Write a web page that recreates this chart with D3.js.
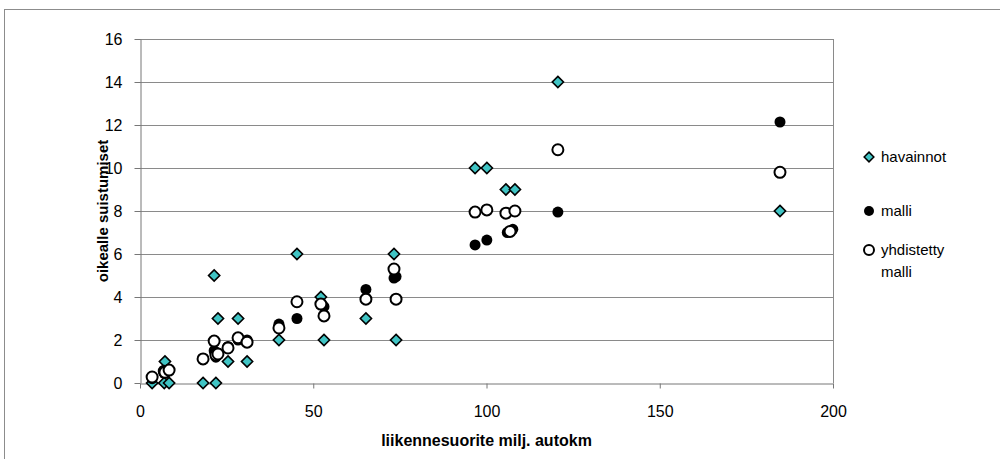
<!DOCTYPE html>
<html>
<head>
<meta charset="utf-8">
<script src="https://cdn.jsdelivr.net/npm/d3@7"></script>
<style>
  body { margin: 0; background: #fff; }
  text { font-family: "Liberation Sans", Arial, sans-serif; }
</style>
</head>
<body>
<svg width="1000" height="459"></svg>
<script>
const width = 1000;
const height = 459;

// series data: [liikennesuorite, suistumiset]
const havainnot = [
  [3.5, 0], [7.0, 0], [7.2, 1], [8.4, 0], [18.2, 0], [21.4, 5], [21.9, 0],
  [22.5, 3], [25.4, 1], [28.3, 3], [30.9, 1], [40.1, 2], [45.3, 6], [52.2, 4],
  [53.1, 2], [65.2, 3], [73.3, 6], [73.9, 2], [96.7, 10], [100.1, 10],
  [105.6, 9], [108.2, 9], [120.6, 14], [184.7, 8]
];
const malli = [
  [3.5, 0.2], [7.0, 0.45], [7.2, 0.5], [8.4, 0.6], [18.2, 1.1], [21.4, 1.5],
  [21.9, 1.2], [22.5, 1.4], [25.4, 1.7], [28.3, 2.0], [30.9, 2.0], [40.1, 2.74],
  [45.3, 3.0], [52.2, 3.7], [53.1, 3.55], [65.2, 4.35], [73.3, 4.88],
  [73.9, 4.95], [96.7, 6.42], [100.1, 6.65], [106.0, 7.0], [107.6, 7.15],
  [120.6, 7.95], [184.7, 12.14]
];
const yhdistetty = [
  [3.5, 0.28], [7.0, 0.55], [7.2, 0.5], [8.4, 0.6], [18.2, 1.12], [21.4, 1.95],
  [21.9, 1.3], [22.5, 1.35], [25.4, 1.63], [28.3, 2.1], [30.9, 1.9], [40.1, 2.56],
  [45.3, 3.78], [52.2, 3.67], [53.1, 3.12], [65.2, 3.9], [73.3, 5.3],
  [73.9, 3.9], [96.7, 7.95], [100.1, 8.05], [105.6, 7.9], [106.8, 7.05],
  [108.2, 8.0], [120.6, 10.85], [184.7, 9.8]
];
const xTicks = [0, 50, 100, 150, 200];
const yTicks = [0, 2, 4, 6, 8, 10, 12, 14, 16];

const plot = {left: 140, right: 833, top: 39, bottom: 383};

let xScale = d3.scaleLinear().domain([0, 200]).range([plot.left, plot.right]);
let yScale = d3.scaleLinear().domain([0, 16]).range([plot.bottom, plot.top]);

let svg = d3.select("svg");

// outer chart border
svg.append("rect")
  .attr("x", 4.5).attr("y", 9.5)
  .attr("width", width).attr("height", height)
  .attr("fill", "#fff").attr("stroke", "#8c8c8c");

// grid
svg.append("g")
  .selectAll("line")
  .data(yTicks.filter(d => d > 0))
  .enter().append("line")
    .attr("x1", plot.left).attr("x2", plot.right)
    .attr("y1", d => Math.round(yScale(d)) + 0.5)
    .attr("y2", d => Math.round(yScale(d)) + 0.5)
    .attr("stroke", "#8a8a8a");

svg.append("line")
  .attr("x1", plot.right + 0.5).attr("x2", plot.right + 0.5)
  .attr("y1", plot.top).attr("y2", plot.bottom)
  .attr("stroke", "#8a8a8a");

// axes
let xAxis = d3.axisBottom(xScale).tickValues(xTicks).tickSize(5).tickSizeOuter(0).tickPadding(17);
let yAxis = d3.axisLeft(yScale).tickValues(yTicks).tickSize(6).tickSizeOuter(0).tickPadding(12);

let gx = svg.append("g")
  .attr("transform", `translate(0, ${plot.bottom + 0.5})`)
  .call(xAxis);
let gy = svg.append("g")
  .attr("transform", `translate(${plot.left + 0.5}, 0)`)
  .call(yAxis);

[gx, gy].forEach(g => {
  g.selectAll("path, line").attr("stroke", "#777");
  g.selectAll("text")
    .attr("fill", "#000")
    .style("font-size", "16px")
    .style("font-family", "'Liberation Sans', Arial, sans-serif");
});

// series
let pts = svg.append("g");

pts.selectAll("path.obs")
  .data(havainnot)
  .enter().append("path")
    .attr("class", "obs")
    .attr("d", d3.symbol(d3.symbolDiamond2, 80))
    .attr("transform", d => `translate(${xScale(d[0])}, ${yScale(d[1])})`)
    .attr("fill", "#40c4c4")
    .attr("stroke", "#000")
    .attr("stroke-width", 1.6);

pts.selectAll("circle.malli")
  .data(malli)
  .enter().append("circle")
    .attr("class", "malli")
    .attr("cx", d => xScale(d[0]))
    .attr("cy", d => yScale(d[1]))
    .attr("r", 5.5)
    .attr("fill", "#000");

pts.selectAll("circle.yhd")
  .data(yhdistetty)
  .enter().append("circle")
    .attr("class", "yhd")
    .attr("cx", d => xScale(d[0]))
    .attr("cy", d => yScale(d[1]))
    .attr("r", 5.5)
    .attr("fill", "#fff")
    .attr("stroke", "#000")
    .attr("stroke-width", 2);

// axis titles
svg.append("text")
  .attr("x", (plot.left + plot.right) / 2)
  .attr("y", 446)
  .style("text-anchor", "middle")
  .style("font-size", "16px")
  .style("font-weight", "bold")
  .text("liikennesuorite milj. autokm");

svg.append("text")
  .attr("transform", "rotate(-90)")
  .attr("x", -(plot.top + plot.bottom) / 2)
  .attr("y", 108)
  .style("text-anchor", "middle")
  .style("font-size", "15px")
  .style("font-weight", "bold")
  .text("oikealle suistumiset");

// legend
let legend = svg.append("g");
legend.append("path")
  .attr("d", d3.symbol(d3.symbolDiamond2, 60))
  .attr("transform", "translate(869, 157)")
  .attr("fill", "#40c4c4").attr("stroke", "#000").attr("stroke-width", 1.5);
legend.append("circle")
  .attr("cx", 869).attr("cy", 211).attr("r", 5).attr("fill", "#000");
legend.append("circle")
  .attr("cx", 869).attr("cy", 250).attr("r", 5)
  .attr("fill", "#fff").attr("stroke", "#000").attr("stroke-width", 2);

const legendLabels = [["havainnot", 162], ["malli", 216], ["yhdistetty", 255], ["malli", 277]];
legend.selectAll("text")
  .data(legendLabels)
  .enter().append("text")
    .attr("x", 881)
    .attr("y", d => d[1])
    .style("font-size", "15px")
    .text(d => d[0]);
</script>
</body>
</html>
